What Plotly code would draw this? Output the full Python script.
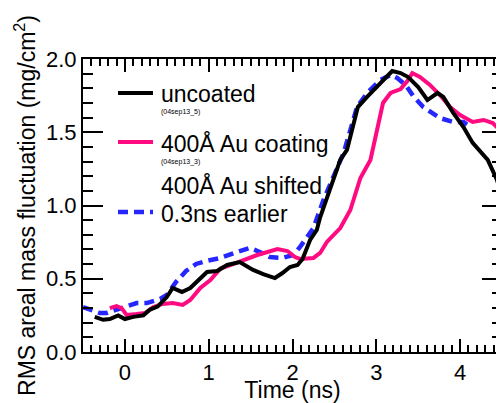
import plotly.graph_objects as go

# ---- data ----
t_uncoated = [-0.36, -0.26, -0.18, -0.08, 0.0, 0.10, 0.22, 0.30, 0.39, 0.50, 0.57, 0.68, 0.78, 0.90, 0.98,
              1.10, 1.22, 1.37, 1.53, 1.65, 1.79, 1.88, 1.97, 2.06, 2.12, 2.21, 2.29, 2.33, 2.45, 2.57,
              2.65, 2.78, 2.89, 3.05, 3.13, 3.19, 3.29, 3.38, 3.50, 3.61, 3.73, 3.80, 3.92, 4.04, 4.15,
              4.33, 4.44, 4.50]
v_uncoated = [0.24, 0.22, 0.225, 0.25, 0.225, 0.24, 0.25, 0.29, 0.31, 0.375, 0.437, 0.41, 0.437, 0.505, 0.546,
              0.553, 0.594, 0.614, 0.56, 0.532, 0.505, 0.539, 0.58, 0.594, 0.635, 0.765, 0.833, 0.92, 1.126, 1.311,
              1.379, 1.672, 1.741, 1.836, 1.877, 1.918, 1.904, 1.877, 1.809, 1.72, 1.768, 1.741, 1.631, 1.536, 1.427,
              1.311, 1.174, 1.072]

t_coated = [-0.18, -0.10, -0.04, 0.02, 0.14, 0.24, 0.34, 0.45, 0.57, 0.69, 0.78, 0.90, 1.02, 1.14, 1.29,
            1.41, 1.58, 1.82, 1.94, 2.03, 2.09, 2.25, 2.33, 2.41, 2.57, 2.69, 2.81, 2.93, 3.01, 3.08,
            3.17, 3.29, 3.37, 3.43, 3.52, 3.64, 3.76, 3.88, 4.00, 4.15, 4.28, 4.39, 4.50]
v_coated = [0.30, 0.314, 0.30, 0.253, 0.259, 0.266, 0.307, 0.328, 0.334, 0.321, 0.355, 0.437, 0.491, 0.57, 0.60,
            0.628, 0.662, 0.703, 0.689, 0.648, 0.635, 0.642, 0.676, 0.751, 0.846, 0.969, 1.188, 1.311, 1.515, 1.70,
            1.768, 1.795, 1.85, 1.904, 1.877, 1.823, 1.754, 1.672, 1.618, 1.57, 1.584, 1.563, 1.50]

t_shifted = [-0.50, -0.38, -0.30, -0.22, -0.10, 0.02, 0.14, 0.26, 0.42, 0.50, 0.61, 0.73, 0.85, 0.97, 1.14,
             1.34, 1.49, 1.61, 1.73, 1.88, 2.01, 2.09, 2.17, 2.25, 2.37, 2.49, 2.61, 2.69, 2.77, 2.89,
             3.05, 3.17, 3.25, 3.35, 3.44, 3.56, 3.76, 3.92, 4.04, 4.12]
v_shifted = [0.307, 0.287, 0.266, 0.266, 0.287, 0.314, 0.334, 0.334, 0.362, 0.389, 0.478, 0.553, 0.601, 0.621, 0.642,
             0.683, 0.71, 0.683, 0.648, 0.642, 0.662, 0.717, 0.778, 0.846, 1.038, 1.195, 1.358, 1.515, 1.672, 1.768,
             1.857, 1.891, 1.870, 1.823, 1.747, 1.672, 1.597, 1.57, 1.57, 1.536]

BLACK = "#000000"
PINK = "#FF0A80"
BLUE = "#2626FF"
FONT = "Liberation Sans, Arial, sans-serif"

fig = go.Figure()
fig.add_trace(go.Scatter(x=t_shifted, y=v_shifted, mode="lines",
                         line=dict(color=BLUE, width=4.5, dash="10px,6px")))
fig.add_trace(go.Scatter(x=t_coated, y=v_coated, mode="lines",
                         line=dict(color=PINK, width=4)))
fig.add_trace(go.Scatter(x=t_uncoated, y=v_uncoated, mode="lines",
                         line=dict(color=BLACK, width=4)))

# the page body has an 8px margin: the figure is placed at (8, 8)
OFF = 8
W, H = 504 - OFF, 403 - OFF
L, R, T, B = 83 - OFF, 2, 59 - OFF, 51
pw, ph = W - L - R, H - T - B


def px(xp):
    return (xp - 83) / pw


def py(yp):
    return (352 - yp) / ph


# legend keys
shapes = [
    dict(type="line", xref="paper", yref="paper", x0=px(118), x1=px(153), y0=py(93), y1=py(93),
         line=dict(color=BLACK, width=4)),
    dict(type="line", xref="paper", yref="paper", x0=px(118), x1=px(153), y0=py(142), y1=py(142),
         line=dict(color=PINK, width=4)),
    dict(type="line", xref="paper", yref="paper", x0=px(118), x1=px(153), y0=py(212), y1=py(212),
         line=dict(color=BLUE, width=4.5, dash="10px,6px")),
]

ann_specs = [
    ("uncoated", 94, 23),
    ("(04sep13_5)", 112, 7),
    ("400Å Au coating", 143, 23),
    ("(04sep13_3)", 162, 7),
    ("400Å Au shifted", 185, 23),
    ("0.3ns earlier", 214, 23),
]
annotations = [dict(text=s, xref="paper", yref="paper", x=px(159), y=py(yc), xanchor="left",
                    yanchor="middle", showarrow=False, font=dict(family=FONT, size=sz, color=BLACK))
               for s, yc, sz in ann_specs]

fig.update_layout(
    width=W, height=H,
    margin=dict(l=L, r=R, t=T, b=B),
    paper_bgcolor="white", plot_bgcolor="white",
    showlegend=False,
    font=dict(family=FONT, size=22, color=BLACK),
    shapes=shapes,
    annotations=annotations,
    xaxis=dict(range=[-0.5, 4.5], tickmode="linear", tick0=0, dtick=1, ticks="inside", ticklen=13,
               tickwidth=2, tickcolor="black", showline=True, linecolor=BLACK, linewidth=2, mirror="allticks",
               showgrid=False, zeroline=False, tickfont=dict(size=22), automargin=False,
               minor=dict(dtick=0.1, ticks="inside", ticklen=7, tickwidth=1.5, tickcolor="black"),
               title=dict(text="Time (ns)", font=dict(size=23), standoff=0)),
    yaxis=dict(range=[0, 2.0], tickmode="linear", tick0=0, dtick=0.5, tickformat=".1f", ticks="inside",
               ticklen=20, tickwidth=2, tickcolor="black", showline=True, linecolor=BLACK, linewidth=2,
               mirror="allticks", showgrid=False, zeroline=False, tickfont=dict(size=22), automargin=False,
               minor=dict(dtick=0.1, ticks="inside", ticklen=10, tickwidth=1.5, tickcolor="black"),
               title=dict(text="RMS areal mass fluctuation (mg/cm<sup>2</sup>)", font=dict(size=23), standoff=4)),
)

fig.write_html("out.html")
